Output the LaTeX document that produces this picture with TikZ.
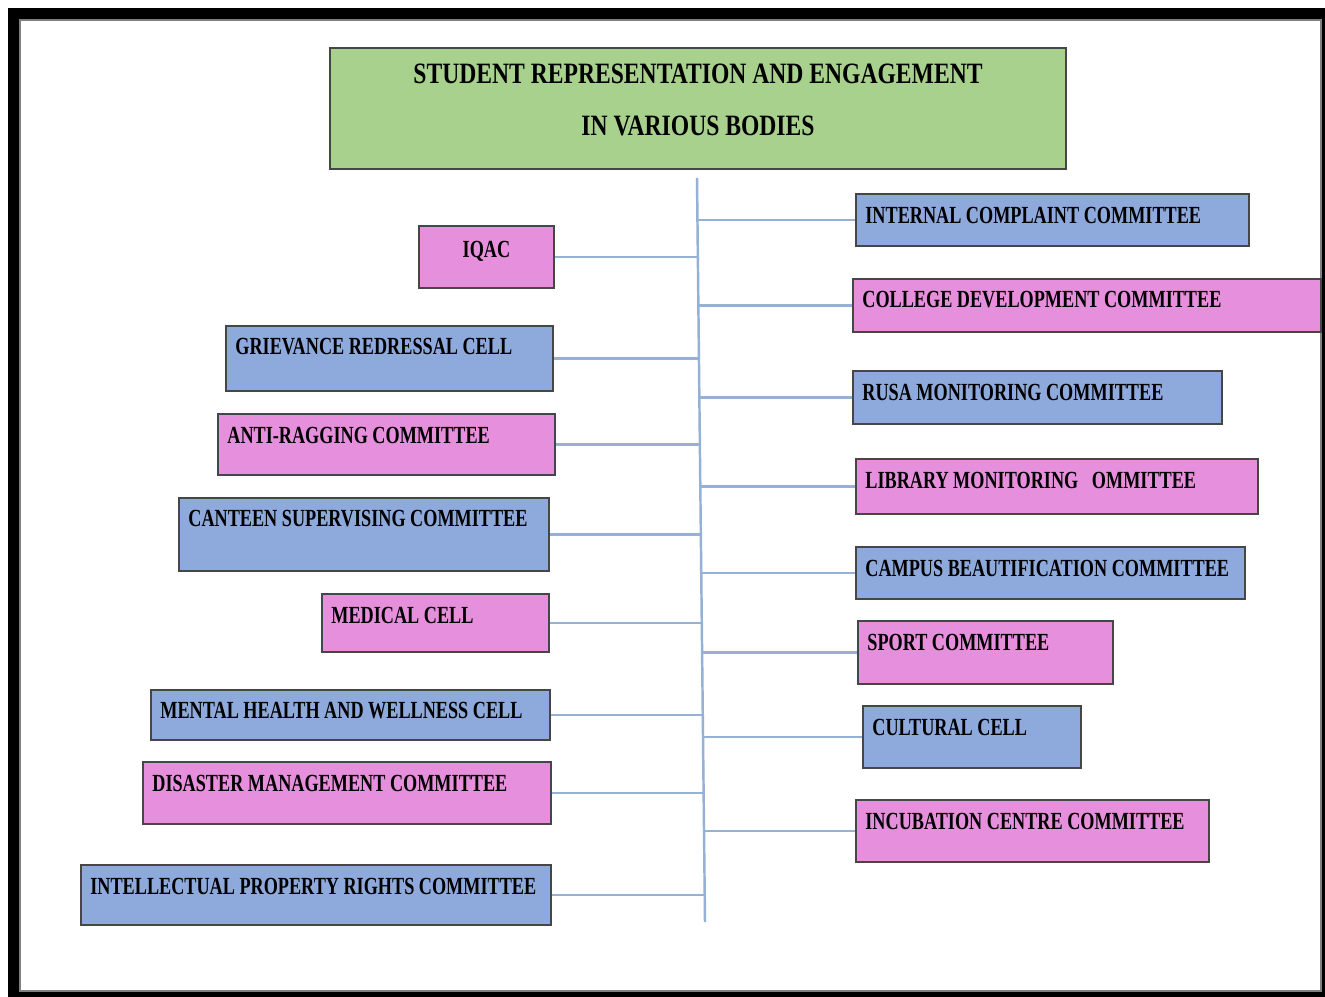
\documentclass[tikz,border=0pt]{standalone}
\usepackage{fontspec}
\setmainfont{Liberation Serif}
\newfontfamily\boxfont[FakeStretch=0.74]{Liberation Serif}
\newfontfamily\headfont[FakeStretch=0.8]{Liberation Serif}
\usetikzlibrary{calc}
\definecolor{boxblue}{RGB}{142,169,219}
\definecolor{boxpink}{RGB}{230,143,220}
\definecolor{headgreen}{RGB}{169,209,142}
\definecolor{linkblue}{RGB}{150,177,214}
\definecolor{edgegray}{RGB}{70,70,70}
\tikzset{
  bodyrect/.style={rectangle, draw=edgegray, line width=1.1pt, inner sep=0pt},
  bodytext/.style={font=\boxfont\bfseries\fontsize{14}{16}\selectfont, inner sep=0pt},
  link/.style={draw=linkblue, line width=1.4pt}
}
\newcommand\bodybox[7]{%
  \pgfmathsetmacro\bw{(#4-#2)*0.02}
  \pgfmathsetmacro\bh{(#5-#3)*0.02}
  \node[bodyrect, fill=#6, minimum width=\bw cm, minimum height=\bh cm] (#1) at ({(#2+#4)/2},{(#3+#5)/2}) {};
  \node[bodytext, anchor=west] (#1-txt) at ([xshift=0.2cm,yshift=-0.44cm]#1.north west) {#7};
}
\begin{document}
\begin{tikzpicture}[x=0.02cm, y=-0.02cm]
\useasboundingbox (0,0) rectangle (1325,997);
\fill [black] (8,8) rectangle (1325,997);
\filldraw [fill=white, draw=gray, line width=0.6pt] (20,20) rectangle (1321,991);

\node [bodyrect, fill=headgreen, minimum width=14.72cm, minimum height=2.42cm] (head) at (698,108.5) {};
\node [font=\headfont\bfseries\fontsize{16.8}{30}\selectfont, align=center, inner sep=0pt] (head-txt) at (698,100)
  {STUDENT REPRESENTATION AND ENGAGEMENT\\IN VARIOUS BODIES};

\coordinate (trunktop) at (697,178);
\coordinate (trunkbot) at (705,922);
\draw [link] (trunktop) -- (trunkbot);

\pgfmathsetmacro\bw{(554-419)*0.02}
\node [bodyrect, fill=boxpink, minimum width=\bw cm, minimum height=1.24cm] (iqac) at (486.5,257) {};
\node [bodytext] (iqac-txt) at ([yshift=-0.52cm]iqac.north) {IQAC};
\bodybox{grievance}{226}{326}{553}{391}{boxblue}{GRIEVANCE REDRESSAL CELL}
\bodybox{antiragging}{218}{414}{555}{475}{boxpink}{ANTI-RAGGING COMMITTEE}
\bodybox{canteen}{179}{498}{549}{571}{boxblue}{CANTEEN SUPERVISING COMMITTEE}
\bodybox{medical}{322}{594}{549}{652}{boxpink}{MEDICAL CELL}
\bodybox{mental}{151}{690}{550}{740}{boxblue}{MENTAL HEALTH AND WELLNESS CELL}
\bodybox{disaster}{143}{762}{551}{824}{boxpink}{DISASTER MANAGEMENT COMMITTEE}
\bodybox{ipr}{81}{865}{551}{925}{boxblue}{INTELLECTUAL PROPERTY RIGHTS COMMITTEE}

\bodybox{complaint}{856}{194}{1249}{246}{boxblue}{INTERNAL COMPLAINT COMMITTEE}
\bodybox{development}{853}{279}{1321}{332}{boxpink}{COLLEGE DEVELOPMENT COMMITTEE}
\bodybox{rusa}{853}{371}{1222}{424}{boxblue}{RUSA MONITORING COMMITTEE}
\bodybox{library}{856}{459}{1258}{514}{boxpink}{LIBRARY MONITORING~~~OMMITTEE}
\bodybox{campus}{856}{547}{1245}{599}{boxblue}{CAMPUS BEAUTIFICATION COMMITTEE}
\bodybox{sport}{858}{621}{1113}{684}{boxpink}{SPORT COMMITTEE}
\bodybox{cultural}{863}{706}{1081}{768}{boxblue}{CULTURAL CELL}
\bodybox{incubation}{856}{800}{1209}{862}{boxpink}{INCUBATION CENTRE COMMITTEE}

\foreach \b in {iqac,grievance,antiragging,canteen,medical,mental,disaster,ipr}
  \draw [link] let \p1=(\b.east), \p2=(trunktop), \p3=(trunkbot) in
    (\p1) -- ({\x2+(\x3-\x2)*(\y1-\y2)/(\y3-\y2)},\y1);
\foreach \b in {complaint,development,rusa,library,campus,sport,cultural,incubation}
  \draw [link] let \p1=(\b.west), \p2=(trunktop), \p3=(trunkbot) in
    ({\x2+(\x3-\x2)*(\y1-\y2)/(\y3-\y2)},\y1) -- (\p1);
\end{tikzpicture}
\end{document}
